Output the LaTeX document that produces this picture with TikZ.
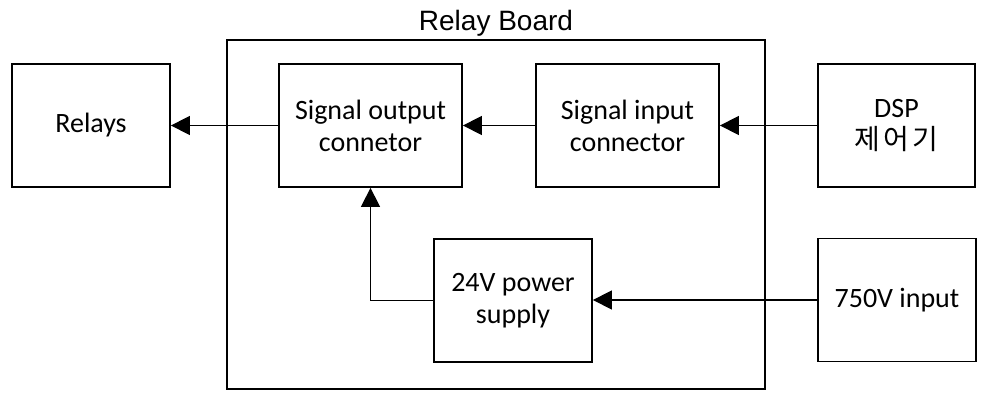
\documentclass[tikz,border=0pt]{standalone}
\usepackage{fontspec}
\setmainfont{Carlito}
\newfontfamily\titlefont{Liberation Sans}
\newfontfamily\krfont[LetterSpace=12]{Noto Sans CJK KR}
\usetikzlibrary{arrows.meta}
\tikzset{
  blk/.style={draw,line width=1.8pt,align=center,inner sep=0pt,
    minimum height=123pt,font=\fontsize{28}{32}\selectfont},
}

\begin{document}
\begin{tikzpicture}[x=1pt,y=1pt,line width=1.4pt,>={Triangle[length=19pt,width=19pt]}]
\useasboundingbox (0,0) rectangle (986,401);

% Relay board frame and title
\draw[line width=1.8pt] (227,12) rectangle (765,361);
\node[font=\titlefont\fontsize{28}{32}\selectfont] (title) at (496,378) {Relay Board};

% Blocks on the top row
\node[blk,minimum width=158pt] (relays) at (91,275.5) {Relays};
\node[blk,minimum width=183pt] (sigout) at (370.5,275.5) {Signal output\\connetor};
\node[blk,minimum width=183pt] (sigin) at (627.5,275.5) {Signal input\\connector};
\node[blk,minimum width=157pt] (dsp) at (896.5,275.5) {DSP\\{\krfont 제어기}};

% Blocks on the bottom row
\node[blk,minimum width=158pt] (psu) at (513,100.5) {24V power\\supply};
\node[blk,minimum width=158pt] (vin) at (897,101) {750V input};

% Connectors
\draw[->] (sigout.west) -- (relays.east);
\draw[->] (sigin.west) -- (sigout.east);
\draw[->] (dsp.west) -- (sigin.east);
\draw[->] (vin.west) -- (vin.west -| psu.east);
\draw[->] (psu.west) -| (sigout.south);
\end{tikzpicture}
\end{document}
